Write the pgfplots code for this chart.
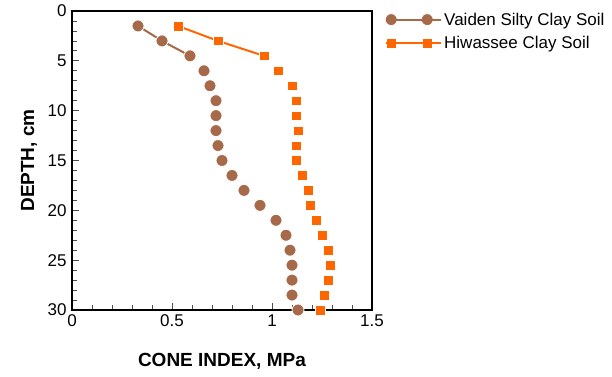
\documentclass[border=0pt]{standalone}
\usepackage{fontspec}
\setmainfont{Liberation Sans}
\usepackage{pgfplots}
\pgfplotsset{compat=1.18}
\definecolor{vbrown}{RGB}{166,106,74}
\definecolor{horange}{RGB}{255,102,0}
\begin{document}
\begin{tikzpicture}
\useasboundingbox (0,0) rectangle (612bp,377bp);
\begin{axis}[
  at={(72bp,67bp)}, anchor=south west,
  scale only axis, width=300bp, height=299bp,
  xmin=0, xmax=1.5, ymin=0, ymax=30,
  y dir=reverse,
  xtick={0,0.5,1,1.5}, ytick={0,5,...,30},
  minor x tick num=4, minor y tick num=4,
  tick pos=left, tick align=inside,
  major tick length=7bp, minor tick length=5bp,
  every tick/.style={black!70, line width=0.8bp},
  axis line style={line width=1.5bp},
  /pgf/number format/assume math mode=true,
  ticklabel style={font=\fontsize{17bp}{20bp}\selectfont},
  xticklabel style={yshift=-1bp},
  yticklabel style={xshift=-2bp},
  xlabel={\textbf{CONE INDEX, MPa}},
  ylabel={\textbf{DEPTH, cm}},
  label style={font=\fontsize{19bp}{22bp}\selectfont},
  xlabel style={at={(axis description cs:0.5,-0.172)}, anchor=center},
  ylabel style={at={(axis description cs:-0.143,0.5)}, anchor=center},
  clip=false,
  legend style={draw=none, fill=none, at={(axis description cs:1.04,1.005)}, anchor=north west,
    font=\fontsize{17bp}{20bp}\selectfont, row sep=6bp, inner sep=1bp,
    cells={anchor=west}},
  legend image code/.code={\draw[#1] plot coordinates {(0bp,0bp) (36bp,0bp)}; \path (-5bp,0bp) -- (50bp,0bp);},
]
% Vaiden
\addplot[vbrown, line width=2bp, mark=*, mark size=6bp, mark options={solid, fill=vbrown, draw=white, line width=0.8bp}]
 coordinates {(0.33,1.5) (0.45,3.0) (0.59,4.5)};
\addlegendentry{Vaiden Silty Clay Soil}
\addplot[horange, line width=2bp, mark=square*, mark size=4.8bp, mark options={solid, fill=horange, draw=white, line width=0.5bp}]
 coordinates {(0.53,1.5) (0.73,3.0) (0.96,4.5)};
\addlegendentry{Hiwassee Clay Soil}
\addplot[only marks, mark=*, mark size=6bp, mark options={fill=vbrown, draw=white, line width=0.8bp}, forget plot]
 coordinates {(0.66,6.0) (0.69,7.5) (0.72,9.0) (0.72,10.5) (0.72,12.0) (0.73,13.5) (0.75,15.0) (0.80,16.5) (0.86,18.0) (0.94,19.5) (1.02,21.0) (1.07,22.5) (1.09,24.0) (1.10,25.5) (1.10,27.0) (1.10,28.5) (1.13,30.0)};
\addplot[only marks, mark=square*, mark size=4.8bp, mark options={fill=horange, draw=white, line width=0.5bp}, forget plot]
 coordinates {(1.03,6.0) (1.10,7.5) (1.12,9.0) (1.12,10.5) (1.13,12.0) (1.12,13.5) (1.12,15.0) (1.15,16.5) (1.18,18.0) (1.19,19.5) (1.22,21.0) (1.25,22.5) (1.28,24.0) (1.29,25.5) (1.28,27.0) (1.26,28.5) (1.24,30.0)};
\end{axis}
\end{tikzpicture}
\end{document}
